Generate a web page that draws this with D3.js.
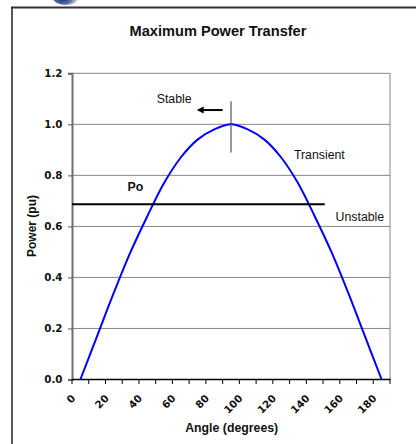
<!DOCTYPE html>
<html>
<head>
<meta charset="utf-8">
<script src="https://cdn.jsdelivr.net/npm/d3@7"></script>
<style>
  html, body { margin: 0; padding: 0; background: #fff; }
  svg { display: block; }
</style>
</head>
<body>
<script>
// ---- data ----
const angles = [0,10,20,30,40,50,60,70,80,90,100,110,120,130,140,150,160,170,180];
const power  = [0.00,0.17,0.34,0.50,0.64,0.77,0.87,0.94,0.98,1.00,0.98,0.94,0.87,0.77,0.64,0.50,0.34,0.17,0.00];
const yTicks = [0.0,0.2,0.4,0.6,0.8,1.0,1.2];
const xLabelAngles = [0,20,40,60,80,100,120,140,160,180];
const poLine = [[-5,0.687],[146,0.687]];
const maxLine = [[90,1.09],[90,0.89]];
const arrowPts = [[85,1.056],[69.5,1.056]];
const notes = [
  {text:"Stable",    a:45.6,  v:1.084, bold:false},
  {text:"Transient", a:127.6, v:0.866, bold:false},
  {text:"Po",        a:28.2,  v:0.739, bold:true},
  {text:"Unstable",  a:152.5, v:0.621, bold:false}
];

const W = 416, H = 444;
const svg = d3.select("body").append("svg").attr("width", W).attr("height", H);
svg.append("rect").attr("width", W).attr("height", H).attr("fill", "#fff");

// decorative logo fragment at the top
const defs = svg.append("defs");
const rg = defs.append("radialGradient").attr("id","lg").attr("cx","35%").attr("cy","60%").attr("r","60%");
rg.append("stop").attr("offset","0%").attr("stop-color","#1a3a8a");
rg.append("stop").attr("offset","55%").attr("stop-color","#5a6a9a");
rg.append("stop").attr("offset","100%").attr("stop-color","#e8e8ee");
svg.append("ellipse").attr("cx",66).attr("cy",-2).attr("rx",13).attr("ry",7).attr("fill","url(#lg)");

// outer chart border
svg.append("line").attr("x1",11).attr("x2",W).attr("y1",7.5).attr("y2",7.5).attr("stroke","#333").attr("stroke-width",2);
svg.append("line").attr("x1",12).attr("x2",12).attr("y1",7).attr("y2",H).attr("stroke","#222").attr("stroke-width",1.5);

const L = 72, R = 390, T = 73.3, B = 379.5;
const x = d3.scaleBand().domain(angles).range([L, R]).paddingInner(0).paddingOuter(0);
const xPos = d3.scaleLinear().domain([-5, 185]).range([L, R]);
const y = d3.scaleLinear().domain([0, 1.2]).range([B, T]);

// gridlines
svg.append("g").selectAll("line").data(yTicks.filter(d => d > 0)).join("line")
  .attr("x1", L).attr("x2", R).attr("y1", d => y(d)).attr("y2", d => y(d))
  .attr("stroke", "#868686").attr("stroke-width", 1);
// right border of plot
svg.append("line").attr("x1", R).attr("x2", R).attr("y1", T).attr("y2", B).attr("stroke", "#868686").attr("stroke-width", 1);

// y axis
const yAxis = d3.axisLeft(y).tickValues(yTicks).tickFormat(d3.format(".1f")).tickSize(4).tickPadding(6);
const gy = svg.append("g").attr("transform", `translate(${L},0)`).call(yAxis);
gy.select(".domain").attr("stroke", "#707070").attr("stroke-width", 2);
gy.selectAll(".tick line").attr("stroke", "#555");
gy.selectAll(".tick text").attr("font-family", "DejaVu Sans").attr("font-weight", "bold")
  .attr("font-size", 10.3).attr("fill", "#111").attr("x", -9.5);

// x axis: ticks on category boundaries
const bounds = angles.map(a => x(a)).concat([R]);
svg.append("line").attr("x1", L).attr("x2", R + 0.5).attr("y1", B).attr("y2", B).attr("stroke", "#000").attr("stroke-width", 1.5);
svg.append("g").selectAll("line").data(bounds).join("line")
  .attr("x1", d => d).attr("x2", d => d).attr("y1", B).attr("y2", B + 4.5)
  .attr("stroke", "#000").attr("stroke-width", 1);
svg.append("g").selectAll("text").data(xLabelAngles).join("text")
  .attr("transform", d => `translate(${x(d) + 4},399) rotate(-45)`)
  .attr("text-anchor", "end")
  .attr("font-family", "DejaVu Sans").attr("font-weight", "bold").attr("font-size", 10.3).attr("fill", "#111")
  .text(d => d);

// curve (smoothed, as in the reference)
const line = d3.line().curve(d3.curveCatmullRom.alpha(0.5))
  .x((d, i) => x(angles[i]) + x.bandwidth() / 2).y(d => y(d));
svg.append("path").datum(power).attr("d", line).attr("fill", "none").attr("stroke", "#0000ff").attr("stroke-width", 2);

// Po line
svg.append("path").datum(poLine).attr("d", d3.line().x(d => xPos(d[0])).y(d => y(d[1])))
  .attr("stroke", "#000").attr("stroke-width", 2).attr("fill", "none");

// max marker vertical line
svg.append("path").datum(maxLine).attr("d", d3.line().x(d => xPos(d[0])).y(d => y(d[1])))
  .attr("stroke", "#555").attr("stroke-width", 1.2).attr("fill", "none");

// arrow
const ax1 = xPos(arrowPts[0][0]), ax2 = xPos(arrowPts[1][0]), ay = y(arrowPts[0][1]);
svg.append("line").attr("x1", ax1).attr("x2", ax2 + 5).attr("y1", ay).attr("y2", ay).attr("stroke", "#000").attr("stroke-width", 2);
svg.append("path").attr("d", `M${ax2},${ay} L${ax2 + 7},${ay - 3.5} L${ax2 + 7},${ay + 3.5} Z`).attr("fill", "#000");

// annotations
svg.append("g").selectAll("text").data(notes).join("text")
  .attr("x", d => xPos(d.a)).attr("y", d => y(d.v))
  .attr("font-family", "Liberation Sans, Arial, sans-serif")
  .attr("font-size", 12.3).attr("font-weight", d => d.bold ? "bold" : "normal").attr("fill", "#111")
  .text(d => d.text);

// titles
svg.append("text").attr("x", 218).attr("y", 36).attr("text-anchor", "middle")
  .attr("font-family", "Liberation Sans, Arial, sans-serif").attr("font-weight", "bold").attr("font-size", 14.6)
  .attr("fill", "#111").text("Maximum Power Transfer");
svg.append("text").attr("transform", "translate(36,226) rotate(-90)").attr("text-anchor", "middle")
  .attr("font-family", "Liberation Sans, Arial, sans-serif").attr("font-weight", "bold").attr("font-size", 12)
  .attr("fill", "#111").text("Power (pu)");
svg.append("text").attr("x", 231.7).attr("y", 431.5).attr("text-anchor", "middle")
  .attr("font-family", "Liberation Sans, Arial, sans-serif").attr("font-weight", "bold").attr("font-size", 12.3)
  .attr("fill", "#111").text("Angle (degrees)");
</script>
</body>
</html>
